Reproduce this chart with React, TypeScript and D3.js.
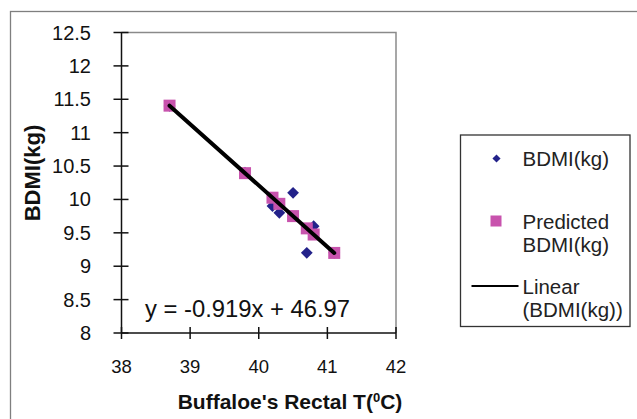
import React, { useEffect, useRef } from 'react';
import * as d3 from 'd3';

// rectal temperature (°C) and measured / predicted BDMI (kg)
const rectalT = [38.7, 39.8, 40.2, 40.3, 40.5, 40.7, 40.8, 41.1];
const bdmi = [11.4, 10.4, 9.9, 9.8, 10.1, 9.2, 9.6, 9.2];
const slope = -0.919;
const intercept = 46.97;
const predicted = rectalT.map(t => slope * t + intercept);

const xTicks = [38, 39, 40, 41, 42];
const yTicks = [8, 8.5, 9, 9.5, 10, 10.5, 11, 11.5, 12, 12.5];

const W = 637;
const H = 419;
const FONT = 'Arial, "Liberation Sans", sans-serif';

const App: React.FC = () => {
  const svgRef = useRef<SVGSVGElement>(null);

  useEffect(() => {
    if (!svgRef.current) return;
    const svg = d3.select(svgRef.current);
    svg.selectAll('*').remove();

    const plot = { left: 121.5, top: 32.5, right: 396, bottom: 333 };
    const x = d3.scaleLinear().domain([38, 42]).range([plot.left, plot.right]);
    const y = d3.scaleLinear().domain([8, 12.5]).range([plot.bottom, plot.top]);

    // outer chart frame
    svg.append('rect')
      .attr('x', 10.5).attr('y', 11.5)
      .attr('width', 700).attr('height', 500)
      .attr('fill', 'white').attr('stroke', '#7f7f7f').attr('stroke-width', 1.3);

    // plot area frame (top/right grey)
    svg.append('path')
      .attr('d', `M${plot.left},${plot.top}H${plot.right}V${plot.bottom}`)
      .attr('fill', 'none').attr('stroke', '#8a8a8a').attr('stroke-width', 1.5);

    // axes
    const axes = svg.append('g').attr('stroke', '#111').attr('stroke-width', 1.5);
    axes.append('line')
      .attr('x1', plot.left).attr('x2', plot.left)
      .attr('y1', plot.top).attr('y2', plot.bottom);
    axes.append('line')
      .attr('x1', plot.left).attr('x2', plot.right)
      .attr('y1', plot.bottom).attr('y2', plot.bottom);

    yTicks.forEach(v => {
      axes.append('line')
        .attr('x1', plot.left - 8).attr('x2', plot.left + 7)
        .attr('y1', y(v)).attr('y2', y(v));
    });
    xTicks.forEach(v => {
      axes.append('line')
        .attr('x1', x(v)).attr('x2', x(v))
        .attr('y1', plot.bottom - 6).attr('y2', plot.bottom + 6);
    });

    svg.append('g')
      .selectAll('text')
      .data(yTicks)
      .enter()
      .append('text')
      .attr('x', 91)
      .attr('y', d => y(d) + 7)
      .attr('text-anchor', 'end')
      .style('font-family', FONT)
      .style('font-size', '20px')
      .style('fill', '#111')
      .text(d => String(d));

    svg.append('g')
      .selectAll('text')
      .data(xTicks)
      .enter()
      .append('text')
      .attr('x', d => x(d))
      .attr('y', 373)
      .attr('text-anchor', 'middle')
      .style('font-family', FONT)
      .style('font-size', '18.5px')
      .style('fill', '#111')
      .text(d => String(d));

    // axis titles
    svg.append('text')
      .attr('transform', `translate(40,173) rotate(-90)`)
      .attr('text-anchor', 'middle')
      .style('font-family', FONT)
      .style('font-size', '22px')
      .style('font-weight', '700')
      .style('fill', '#111')
      .text('BDMI(kg)');

    const xt = svg.append('text')
      .attr('x', 290)
      .attr('y', 409)
      .attr('text-anchor', 'middle')
      .style('font-family', FONT)
      .style('font-size', '21px')
      .style('font-weight', '700')
      .style('fill', '#111');
    xt.append('tspan').text("Buffaloe's Rectal T(");
    xt.append('tspan').attr('dy', -7).style('font-size', '13px').text('0');
    xt.append('tspan').attr('dy', 7).text('C)');

    // measured points (diamonds)
    const diamond = d3.symbol().type(d3.symbolDiamond2).size(88);
    svg.append('g')
      .selectAll('path')
      .data(rectalT.map((t, i) => [t, bdmi[i]]))
      .enter()
      .append('path')
      .attr('d', diamond)
      .attr('transform', d => `translate(${x(d[0])},${y(d[1])})`)
      .attr('fill', '#23228a');

    // predicted points (squares)
    svg.append('g')
      .selectAll('rect')
      .data(rectalT.map((t, i) => [t, predicted[i]]))
      .enter()
      .append('rect')
      .attr('x', d => x(d[0]) - 6)
      .attr('y', d => y(d[1]) - 6)
      .attr('width', 12)
      .attr('height', 12)
      .attr('fill', '#c853ad');

    // linear trendline
    const tMin = d3.min(rectalT) as number;
    const tMax = d3.max(rectalT) as number;
    svg.append('path')
      .datum([tMin, tMax])
      .attr('d', d3.line<number>().x(t => x(t)).y(t => y(slope * t + intercept)))
      .attr('stroke', '#000')
      .attr('stroke-width', 4)
      .attr('stroke-linecap', 'round')
      .attr('fill', 'none');

    svg.append('text')
      .attr('x', 145)
      .attr('y', 317)
      .style('font-family', FONT)
      .style('font-size', '23.8px')
      .style('fill', '#111')
      .text(`y = ${slope}x + ${intercept}`);

    // legend
    const lg = svg.append('g');
    lg.append('rect')
      .attr('x', 460.5).attr('y', 135)
      .attr('width', 169.5).attr('height', 191.5)
      .attr('fill', 'white').attr('stroke', '#333').attr('stroke-width', 1.3);

    const lgText = (tx: number, ty: number, s: string) =>
      lg.append('text')
        .attr('x', tx).attr('y', ty)
        .style('font-family', FONT)
        .style('font-size', '20.5px')
        .style('fill', '#222')
        .text(s);

    lg.append('path')
      .attr('d', d3.symbol().type(d3.symbolDiamond2).size(42))
      .attr('transform', 'translate(496.5,158.5)')
      .attr('fill', '#23228a');
    lgText(522.5, 165.5, 'BDMI(kg)');

    lg.append('rect')
      .attr('x', 490.5).attr('y', 215.5)
      .attr('width', 11).attr('height', 11)
      .attr('fill', '#c853ad');
    lgText(522.5, 228.5, 'Predicted');
    lgText(522.5, 251.5, 'BDMI(kg)');

    lg.append('line')
      .attr('x1', 471.5).attr('x2', 518.5)
      .attr('y1', 286).attr('y2', 286)
      .attr('stroke', '#000').attr('stroke-width', 2);
    lgText(522.5, 293.5, 'Linear');
    lgText(522.5, 316.5, '(BDMI(kg))');
  }, []);

  return (
    <svg
      ref={svgRef}
      width={W}
      height={H}
      viewBox={`0 0 ${W} ${H}`}
      style={{ position: 'absolute', left: 0, top: 0, background: 'white' }}
    />
  );
};

export default App;
